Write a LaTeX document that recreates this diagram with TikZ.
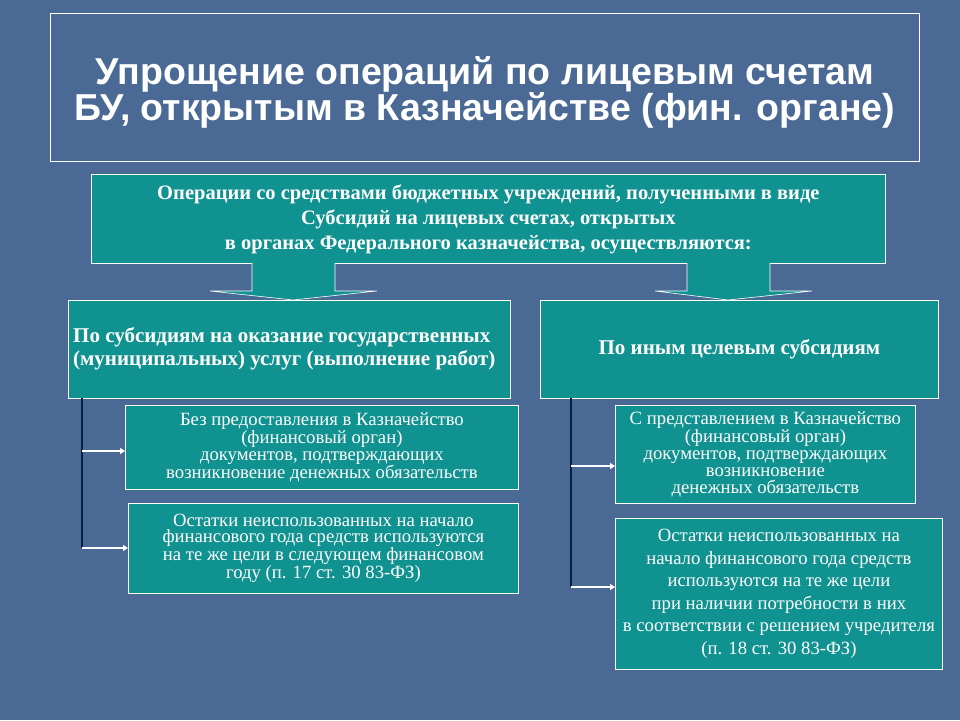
\documentclass[tikz,border=0pt]{standalone}
\usepackage{fontspec}
\setmainfont{Liberation Serif}
\newfontfamily\titlefont{Liberation Sans}
\usetikzlibrary{arrows.meta}
\definecolor{bg}{HTML}{4A6A95}
\definecolor{teal}{HTML}{0F9290}
\definecolor{navy}{HTML}{0A1E4A}
\tikzset{
 box/.style={draw=white, line width=0.8pt, fill=teal, anchor=north west, inner sep=0pt, text=white, align=center},
 conn/.style={navy, line width=2.2pt},
 arr/.style={white, line width=2pt, -{Triangle[length=5pt,width=6pt]}},
 blockarr/.style={fill=teal, draw=white, line width=0.6pt},
}
\begin{document}
\begin{tikzpicture}[x=1pt,y=-1pt]
\fill[bg] (0,0) rectangle (960,720);
\useasboundingbox (0,0) rectangle (960,720);
% title
\node[draw=white, line width=0.8pt, anchor=north west, minimum width=869pt, minimum height=148pt, inner sep=0pt] (title) at (50,13) {};
\node[text=white, font=\titlefont\bfseries\fontsize{37.5}{36}\selectfont, align=center] (tt) at (485,92) {Упрощение операций по лицевым счетам\\БУ, открытым в Казначействе (фин. органе)};
% top box
\node[box, minimum width=794pt, minimum height=89pt, font=\bfseries\fontsize{20.5}{25}\selectfont] (top) at (91,174) {Операции со средствами бюджетных учреждений, полученными в виде\\Субсидий на лицевых счетах, открытых\\в органах Федерального казначейства, осуществляются:};
% block arrows
\draw[blockarr] (252,263) -- (252,291) -- (210,291) -- (293,300) -- (377,291) -- (335,291) -- (335,263);
\draw[blockarr] (687,263) -- (687,291) -- (655,291) -- (728,300) -- (812,291) -- (770,291) -- (770,263);
% level 2
\node[box, minimum width=442pt, minimum height=98pt] (B) at (68,300) {};
\node[text=white, font=\bfseries\fontsize{21}{23}\selectfont, align=left, anchor=west, inner sep=0pt] (Bt) at (73,349) {По субсидиям на оказание государственных\\(муниципальных) услуг (выполнение работ)};
\node[box, minimum width=398pt, minimum height=98pt, font=\bfseries\fontsize{21}{23}\selectfont] (C) at (540,300) {По иным целевым субсидиям};
% level 3
\node[box, minimum width=393pt, minimum height=84pt, font=\fontsize{18.7}{16.8}\selectfont] (D1) at (125,405) {Без предоставления в Казначейство\\(финансовый орган)\\документов, подтверждающих\\возникновение денежных обязательств};
\node[box, minimum width=390pt, minimum height=90pt, font=\fontsize{18.7}{16.8}\selectfont] (D2) at (128,503) {Остатки неиспользованных на начало\\финансового года средств используются\\на те же цели в следующем финансовом\\году (п. 17 ст. 30 83-ФЗ)};
\node[box, minimum width=300pt, minimum height=98pt, font=\fontsize{18.7}{16.8}\selectfont] (E1) at (615,405) {С представлением в Казначейство\\(финансовый орган)\\документов, подтверждающих\\возникновение\\денежных обязательств};
\node[box, minimum width=327pt, minimum height=151pt, font=\fontsize{18.7}{22.5}\selectfont] (E2) at (615,518) {Остатки неиспользованных на\\начало финансового года средств\\используются на те же цели\\при наличии потребности в них\\в соответствии с решением учредителя\\(п. 18 ст. 30 83-ФЗ)};
% connectors
\coordinate (bl) at (82,398);
\coordinate (bl1) at (82,451);
\coordinate (bl2) at (82,548);
\draw[conn] (bl) -- (bl2);
\draw[arr] (bl1) -- (bl1 -| D1.west);
\draw[arr] (bl2) -- (bl2 -| D2.west);
\coordinate (cl) at (571,398);
\coordinate (cl1) at (571,466);
\coordinate (cl2) at (571,587);
\draw[conn] (cl) -- (cl2);
\draw[arr] (cl1) -- (cl1 -| E1.west);
\draw[arr] (cl2) -- (cl2 -| E2.west);
\end{tikzpicture}
\end{document}
